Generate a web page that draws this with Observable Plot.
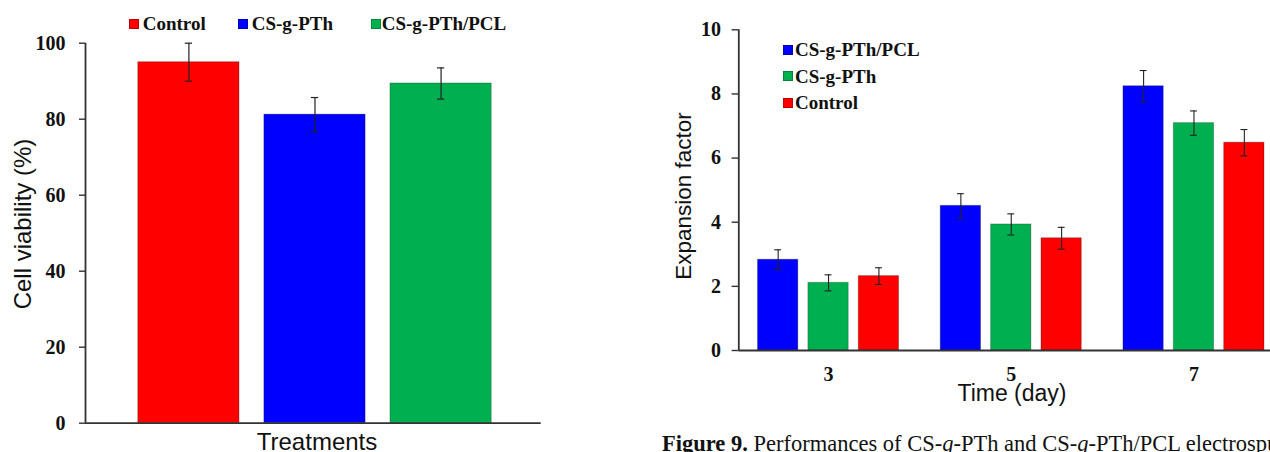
<!DOCTYPE html>
<html><head><meta charset="utf-8">
<script src="https://cdn.jsdelivr.net/npm/d3@7"></script>
<script src="https://cdn.jsdelivr.net/npm/@observablehq/plot@0.6"></script>
<style>
html,body{margin:0;padding:0;background:#fff;}
body{width:1270px;height:452px;position:relative;overflow:hidden;}
.lbl{position:absolute;white-space:nowrap;line-height:1;color:#111;}
.serif{font-family:"Liberation Serif","Times New Roman",serif;}
.sans{font-family:"Liberation Sans",Arial,sans-serif;}
.sw{position:absolute;}
</style></head><body>
<script>
// ---------- Left panel data (cell viability) ----------
const viabilityCategories = ["Control", "CS-g-PTh", "CS-g-PTh/PCL"];
const viabilityValues = [95.0, 81.2, 89.4];
const viabilityErrors = [5.0, 4.5, 4.1];
const viabilityColors = ["#ff0000", "#0000ff", "#00b050"];
const viabilityTicks = [0, 20, 40, 60, 80, 100];

// ---------- Right panel data (expansion factor) ----------
const days = [3, 5, 7];
const expansionSeries = ["CS-g-PTh/PCL", "CS-g-PTh", "Control"];
const expansionColors = ["#0000ff", "#00b050", "#ff0000"];
const expansionPTHPCL = [2.83, 4.51, 8.24];
const expansionPTH = [2.11, 3.93, 7.09];
const expansionControl = [2.32, 3.50, 6.48];
const errorPTHPCL = [0.31, 0.38, 0.49];
const errorPTH = [0.25, 0.33, 0.38];
const errorControl = [0.26, 0.34, 0.41];
const expansionTicks = [0, 2, 4, 6, 8, 10];

const viability = viabilityCategories.map((c, i) => ({treatment: c, value: viabilityValues[i], err: viabilityErrors[i]}));
const seriesValues = [expansionPTHPCL, expansionPTH, expansionControl];
const seriesErrors = [errorPTHPCL, errorPTH, errorControl];
const expansion = days.flatMap((d, i) => expansionSeries.map((s, j) => ({day: d, series: s, value: seriesValues[j][i], err: seriesErrors[j][i]})));

const SERIF = '"Liberation Serif","Times New Roman",serif';
const SANS = '"Liberation Sans",Arial,sans-serif';
const AX = "#333";

function place(svg, left, top) {
  svg.style.position = "absolute";
  svg.style.left = left + "px";
  svg.style.top = top + "px";
  document.body.appendChild(svg);
}
function text(str, {x, baseline, size, cls, anchor = "start", weight = "normal", html = false}) {
  const d = document.createElement("div");
  d.className = "lbl " + cls;
  d.style.fontSize = size + "px";
  d.style.fontWeight = weight;
  const k = cls === "serif" ? 0.8375 : 0.8465;
  d.style.left = x + "px";
  d.style.top = (baseline - k * size) + "px";
  if (anchor === "middle") d.style.transform = "translateX(-50%)";
  if (html) d.innerHTML = str; else d.textContent = str;
  document.body.appendChild(d);
  return d;
}
function vtext(str, {cx, cy, size, cls}) {
  const d = document.createElement("div");
  d.className = "lbl " + cls;
  d.style.fontSize = size + "px";
  d.style.left = cx + "px";
  d.style.top = cy + "px";
  d.style.transform = "translate(-50%,-50%) rotate(-90deg)";
  d.textContent = str;
  document.body.appendChild(d);
}
function swatch(color, x, y, s) {
  const d = document.createElement("div");
  d.className = "sw";
  d.style.left = x + "px"; d.style.top = y + "px";
  d.style.width = s + "px"; d.style.height = s + "px";
  d.style.background = color;
  d.style.boxShadow = "inset 0 0 0 1px rgba(0,0,0,0.25)";
  document.body.appendChild(d);
}

const baseStyle = {fontFamily: SERIF, fontSize: "20px", fontWeight: "bold", color: "#111", background: "transparent", overflow: "visible"};

// ---------- Left panel ----------
const leftDims = {width: 560, height: 452, marginLeft: 85, marginRight: 19.3, marginTop: 42.7, marginBottom: 29.3};

const leftBars = Plot.plot({
  ...leftDims,
  style: baseStyle,
  x: {domain: viabilityCategories, paddingInner: 0.197, paddingOuter: 0.4055, align: 0.516, round: false, axis: null},
  y: {domain: [0, 100], axis: null},
  color: {domain: viabilityCategories, range: viabilityColors},
  marks: [
    Plot.barY(viability, {x: "treatment", y: "value", fill: "treatment", stroke: "#000", strokeOpacity: 0.25, strokeWidth: 1}),
    Plot.ruleX(viability, {x: "treatment", y1: d => d.value - d.err, y2: d => d.value + d.err, stroke: "#222", strokeWidth: 1.2}),
    Plot.tickY(viability, {x: "treatment", y: d => d.value + d.err, insetLeft: 47, insetRight: 47, stroke: "#222", strokeWidth: 1.2}),
    Plot.tickY(viability, {x: "treatment", y: d => d.value - d.err, insetLeft: 47, insetRight: 47, stroke: "#222", strokeWidth: 1.2})
  ]
});
place(leftBars, 0, 0);

const leftAxes = Plot.plot({
  ...leftDims,
  style: baseStyle,
  x: {domain: [0, 1], axis: null},
  y: {domain: [0, 100], axis: null},
  marks: [
    Plot.ruleY([0], {stroke: AX, strokeWidth: 1.8}),
    Plot.ruleX([0], {stroke: AX, strokeWidth: 1.8}),
    Plot.axisY({ticks: viabilityTicks, tickSize: 6, tickPadding: 14, label: null, stroke: AX, strokeWidth: 1.4, tickFormat: d => String(d)})
  ]
});
place(leftAxes, 0, 0);

// left legend
const leftLegendX = [{sx: 129, tx: 142.7}, {sx: 238, tx: 251.7}, {sx: 370.5, tx: 381.7}];
viabilityCategories.forEach((c, i) => {
  swatch(viabilityColors[i], leftLegendX[i].sx, 19, 10);
  text(c, {x: leftLegendX[i].tx, baseline: 30, size: 19, cls: "serif", weight: "bold"});
});
vtext("Cell viability (%)", {cx: 23, cy: 224, size: 24, cls: "sans"});
text("Treatments", {x: 317, baseline: 450, size: 24, cls: "sans", anchor: "middle"});

// ---------- Right panel ----------
const rightDims = {width: 630, height: 410, marginLeft: 98.3, marginRight: 0, marginTop: 29.3, marginBottom: 60};

const rightBars = Plot.plot({
  ...rightDims,
  style: baseStyle,
  fx: {domain: days, paddingInner: 0.228, paddingOuter: 0.069, align: 0.762, round: false, label: null},
  x: {domain: expansionSeries, paddingInner: 0.2, paddingOuter: 0, round: false, axis: null},
  y: {domain: [0, 10], axis: null},
  color: {domain: expansionSeries, range: expansionColors},
  marks: [
    Plot.barY(expansion, {fx: "day", x: "series", y: "value", fill: "series", stroke: "#000", strokeOpacity: 0.25, strokeWidth: 1}),
    Plot.ruleX(expansion, {fx: "day", x: "series", y1: d => d.value - d.err, y2: d => d.value + d.err, stroke: "#222", strokeWidth: 1.1}),
    Plot.tickY(expansion, {fx: "day", x: "series", y: d => d.value + d.err, insetLeft: 16.7, insetRight: 16.7, stroke: "#222", strokeWidth: 1.1}),
    Plot.tickY(expansion, {fx: "day", x: "series", y: d => d.value - d.err, insetLeft: 16.7, insetRight: 16.7, stroke: "#222", strokeWidth: 1.1}),
    Plot.axisFx({anchor: "bottom", tickSize: 0, tickPadding: 16, label: null})
  ]
});
place(rightBars, 640, 0);

const rightAxes = Plot.plot({
  ...rightDims,
  style: baseStyle,
  x: {domain: [0, 1], axis: null},
  y: {domain: [0, 10], axis: null},
  marks: [
    Plot.ruleY([0], {stroke: AX, strokeWidth: 1.8}),
    Plot.ruleX([0], {stroke: AX, strokeWidth: 1.8}),
    Plot.axisY({ticks: expansionTicks, tickSize: 6.7, tickPadding: 11, label: null, stroke: AX, strokeWidth: 1.4, tickFormat: d => String(d)})
  ]
});
place(rightAxes, 640, 0);

// right legend
const rightLegendBaselines = [56, 82.7, 109.3];
expansionSeries.forEach((s, i) => {
  swatch(expansionColors[i], 782.5, rightLegendBaselines[i] - 11.3, 10);
  text(s, {x: 795, baseline: rightLegendBaselines[i], size: 19, cls: "serif", weight: "bold"});
});
vtext("Expansion factor", {cx: 683.5, cy: 196, size: 22.5, cls: "sans"});
text("Time (day)", {x: 1012, baseline: 401.7, size: 23, cls: "sans", anchor: "middle"});

// caption
text("<b>Figure 9.</b> Performances of CS-<i>g</i>-PTh and CS-<i>g</i>-PTh/PCL electrospun nanofibers", {x: 662, baseline: 452, size: 22.5, cls: "serif", html: true});
</script>
</body></html>
